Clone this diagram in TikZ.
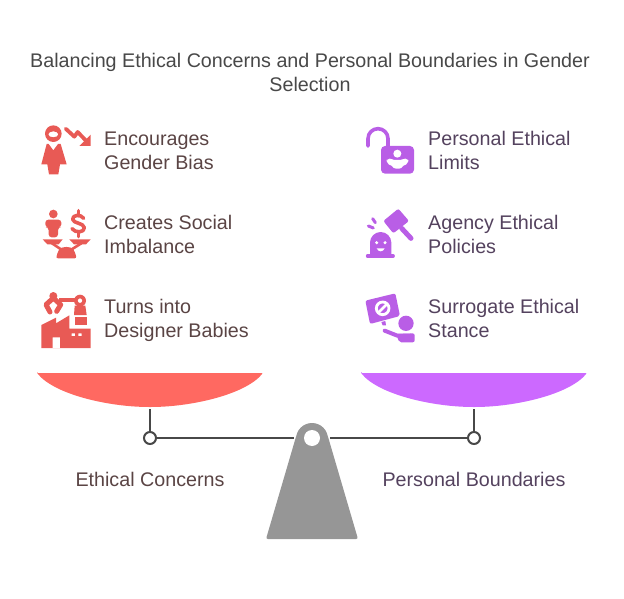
\documentclass[tikz,border=0pt]{standalone}
\usepackage{fontspec}
\setmainfont{Liberation Sans}
\definecolor{titlegray}{HTML}{484848}
\definecolor{textred}{HTML}{5A4444}
\definecolor{textpurple}{HTML}{54425E}
\definecolor{iconred}{HTML}{E85A55}
\definecolor{iconpurple}{HTML}{B95EE6}
\definecolor{panred}{HTML}{FF6961}
\definecolor{panpurple}{HTML}{CC69FF}
\definecolor{beamgray}{HTML}{484848}
\definecolor{basegray}{HTML}{969696}
\newcommand*\labelfont{\fontsize{19.7}{24}\selectfont}
\tikzset{
	title/.style={font=\labelfont,text=titlegray,align=center,inner sep=0pt},
	labelL/.style={font=\labelfont,text=textred,align=left,anchor=west,inner sep=0pt,execute at begin node=\strut,execute at end node=\strut},
	labelR/.style={font=\labelfont,text=textpurple,align=left,anchor=west,inner sep=0pt,execute at begin node=\strut,execute at end node=\strut},
	joint/.style={circle,draw=beamgray,line width=2pt,fill=white,inner sep=0pt,minimum size=12pt},
	beam/.style={draw=beamgray,line width=2pt},
	iconline/.style={line width=#1,line cap=round,line join=round},
}
\begin{document}
\begin{tikzpicture}[x=1pt,y=-1pt]
	\useasboundingbox (0,0) rectangle (624,599);
	\node[title] (heading) at (310,75) {\strut Balancing Ethical Concerns and Personal Boundaries in Gender\\Selection\strut};
	\node[labelL] (bias) at (104,154) {Encourages\\Gender Bias};
	\node[labelL] (imbalance) at (104,238) {Creates Social\\Imbalance};
	\node[labelL] (babies) at (104,322) {Turns into\\Designer Babies};
	\node[labelR] (limits) at (428,154) {Personal Ethical\\Limits};
	\node[labelR] (policies) at (428,238) {Agency Ethical\\Policies};
	\node[labelR] (stance) at (428,322) {Surrogate Ethical\\Stance};
	\node[font=\labelfont,text=textred,inner sep=0pt] (concerns) at (150,479) {Ethical Concerns};
	\node[font=\labelfont,text=textpurple,inner sep=0pt] (boundaries) at (474,479) {Personal Boundaries};

	\fill[panred,rounded corners=1pt] (37,373) -- (263,373) .. controls (245,395) and (190,407) .. (150,407) .. controls (110,407) and (55,395) .. (37,373) -- cycle;
	\fill[panpurple,rounded corners=1pt] (361,373) -- (587,373) .. controls (569,395) and (514,407) .. (474,407) .. controls (434,407) and (379,395) .. (361,373) -- cycle;
	\fill[basegray] (312,439) circle (16);
	\fill[basegray,rounded corners=2pt] (296.5,435) -- (266,539) -- (358,539) -- (327.5,435) -- cycle;
	\node[circle,fill=white,inner sep=0pt,minimum size=16pt] (hole) at (312,438) {};

	\coordinate (stemL) at (150,409);
	\coordinate (stemR) at (474,409);
	\coordinate (beamL) at (294,438);
	\coordinate (beamR) at (330,438);
	\node[joint] (jointL) at (150,438) {};
	\node[joint] (jointR) at (474,438) {};
	\path[beam]
		(stemL) edge (jointL)
		(jointL) edge (beamL)
		(stemR) edge (jointR)
		(jointR) edge (beamR);

	% red icons
	\begin{scope}[shift={(36,122)},scale=1/3,iconred]
		\fill[even odd rule] (52,35) circle (25) (52,37) ellipse (15 and 9);
		\fill (32,66) -- (38,66) -- (52,85) -- (66,66) -- (74,66) -- (92,127) -- (72,127) -- (67,157) -- (39,157) -- (34,127) -- (16,127) -- cycle;
		\draw[iconline=3.8pt] (89,20) -- (115,44) -- (125,30) -- (150,56);
		\fill (164,38) -- (164,72) -- (130,72) -- cycle;
	\end{scope}
	\begin{scope}[shift={(36,206)},scale=1/3,iconred]
		\fill (52,24) circle (13);
		\fill[rounded corners=3pt] (28,64) -- (28,41) -- (76,41) -- (76,64) -- (66,64) -- (66,94) -- (38,94) -- (38,64) -- cycle;
		\draw[iconline=3.6pt] (143,37) .. controls (135,24) and (108,26) .. (110,40) .. controls (112,53) and (143,50) .. (145,65) .. controls (146,80) and (118,82) .. (108,68);
		\draw[iconline=3.6pt] (127,14) -- (127,24) (127,80) -- (127,92);
		\fill (20,100) -- (80,100) -- (68,115) -- (34,115) -- cycle;
		\fill (100,100) -- (164,100) -- (150,115) -- (114,115) -- cycle;
		\draw[iconline=2.6pt] (48,112) -- (78,132) (136,112) -- (104,132);
		\fill[rounded corners=2pt] (60,157) -- (66,136) .. controls (76,120) and (106,120) .. (116,136) -- (122,157) -- cycle;
	\end{scope}
	\begin{scope}[shift={(36,290)},scale=1/3,iconred]
		\fill[even odd rule] (132,32) circle (18) (132,32) circle (7);
		\fill (116,47) -- (148,47) -- (152,75) -- (114,75) -- cycle;
		\fill (70,24) rectangle (118,35);
		\fill (52,18) circle (12);
		\draw[iconline=5pt] (52,24) -- (30,44) -- (42,66);
		\draw[iconline=5pt] (52,24) -- (74,44) -- (62,64);
		\fill (116,82) rectangle (152,106);
		\fill[even odd rule] (16,174) -- (16,105) -- (60,83) -- (60,100) -- (100,76) -- (100,116) -- (164,116) -- (164,174) -- cycle
			(50,142) rectangle (72,174)
			(107,130) rectangle (117,138)
			(127,130) rectangle (137,138);
	\end{scope}

	% purple icons
	\begin{scope}[shift={(360,122)},scale=1/3,iconpurple]
		\draw[iconline=3.6pt] (24,72) -- (24,50) arc[start angle=180,end angle=360,radius=30] -- (84,72);
		\fill[rounded corners=4pt] (63,72) rectangle (162,155);
		\fill[white] (112,95) circle (12);
		\fill[white,rounded corners=3pt] (80,110) .. controls (95,110) and (100,114) .. (112,114) .. controls (124,114) and (130,110) .. (145,110) -- (145,122) .. controls (138,128) and (130,130) .. (126,140) -- (99,140) .. controls (95,130) and (87,128) .. (80,122) -- cycle;
	\end{scope}
	\begin{scope}[shift={(360,206)},scale=1/3,iconpurple]
		\fill[rounded corners=2pt] (70,45) -- (115,8) -- (147,45) -- (100,82) -- cycle;
		\draw[iconline=5pt] (125,67) -- (153,97);
		\draw[iconline=3pt] (38,38) -- (46,50) (25,60) -- (40,66);
		\fill (30,148) -- (30,110) arc[start angle=180,end angle=360,radius=32] -- (94,148) -- cycle;
		\draw[iconline=3pt] (22,150) -- (100,150);
		\fill[white] (50,110) circle (5) (75,110) circle (5);
		\fill[white] (50,127) .. controls (55,139) and (69,139) .. (74,127) -- cycle;
	\end{scope}
	\begin{scope}[shift={(360,290)},scale=1/3,iconpurple]
		\fill[rounded corners=2pt] (16,32) -- (106,10) -- (120,78) -- (30,102) -- cycle;
		\fill (64,96) -- (76,93) -- (78,106) -- (68,106) -- cycle;
		\draw[white,line width=2.8pt] (68,55) circle (19);
		\draw[white,line width=2.8pt] (55,68) -- (81,42);
		\fill (138,100) circle (23);
		\draw[iconline=4pt] (74,122) -- (112,137) -- (150,137);
		\fill[rounded corners=2pt] (108,132) -- (164,130) -- (164,157) -- (118,157) -- cycle;
	\end{scope}
\end{tikzpicture}
\end{document}
